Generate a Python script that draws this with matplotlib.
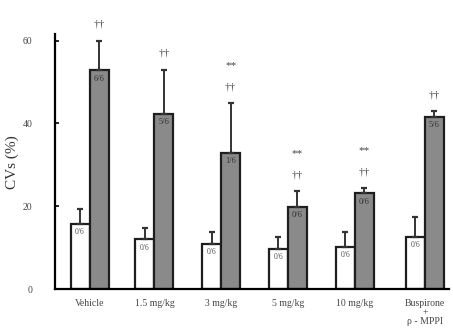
import numpy as np
import matplotlib
matplotlib.use("Agg")
import matplotlib.pyplot as plt

plt.rcParams["font.family"] = ["Liberation Serif", "DejaVu Serif"]

groups = ["Vehicle", "1.5 mg/kg", "3 mg/kg", "5 mg/kg", "10 mg/kg", "Buspirone\n+\nρ - MPPI"]
white_vals = [15.7, 12.0, 10.8, 9.6, 10.1, 12.5]
white_err = [3.6, 2.7, 2.9, 2.9, 3.6, 4.8]
gray_vals = [52.8, 42.2, 32.8, 19.8, 23.1, 41.5]
gray_err = [7.2, 10.8, 12.0, 3.8, 1.2, 1.4]
white_labels = ["0/6", "0/6", "0/6", "0/6", "0/6", "0/6"]
gray_labels = ["6/6", "5/6", "1/6", "0/6", "0/6", "5/6"]
daggers = ["††", "††", "††", "††", "††", "††"]
stars = ["", "", "**", "**", "**", ""]

x = np.array([0, 0.97, 1.97, 2.97, 3.97, 5.02])
w = 0.285

fig = plt.figure(figsize=(4.53, 3.30), dpi=100)
ax = fig.add_axes([0.121, 0.124, 0.870, 0.772])

ax.bar(x - w / 2, white_vals, w, color="white", edgecolor="#1e1e1e", linewidth=1.6,
       yerr=[np.zeros(6), white_err], error_kw=dict(ecolor="#333333", elinewidth=1.4, capsize=2.5, capthick=1.6))
ax.bar(x + w / 2, gray_vals, w, color="#8a8a8a", edgecolor="#1e1e1e", linewidth=1.6,
       yerr=[np.zeros(6), gray_err], error_kw=dict(ecolor="#333333", elinewidth=1.4, capsize=2.5, capthick=1.6))

for i in range(6):
    ax.text(x[i] - w / 2, white_vals[i] - 1.0, white_labels[i], ha="center", va="top",
            fontsize=5.5, color="#555555")
    ax.text(x[i] + w / 2, gray_vals[i] - 1.0, gray_labels[i], ha="center", va="top",
            fontsize=6, color="#333333")
    top = gray_vals[i] + gray_err[i]
    ax.annotate(daggers[i], (x[i] + w / 2, top), xytext=(0, 12), textcoords="offset points",
                ha="center", va="center", fontsize=8, color="#444444")
    if stars[i]:
        ax.annotate(stars[i], (x[i] + w / 2, top), xytext=(0, 27), textcoords="offset points",
                    ha="center", va="center", fontsize=8, color="#444444")

ax.set_xlim(-0.52, 5.38)
ax.set_ylim(0, 61.5)
ax.set_yticks([0, 20, 40, 60])
ax.set_yticklabels(["0", "20", "40", "60"], fontsize=7, color="#444444")
ax.set_xticks(x)
ax.set_xticklabels(groups, fontsize=7, color="#444444", va="top", linespacing=1.0)
ax.tick_params(axis="x", length=0, pad=7)
ax.tick_params(axis="y", length=3, width=1.2, direction="in", pad=16)
ax.set_ylabel("CVs (%)", fontsize=11, color="#333333", labelpad=3)

ax.spines["top"].set_visible(False)
ax.spines["right"].set_visible(False)
ax.spines["left"].set_linewidth(1.6)
ax.spines["bottom"].set_linewidth(1.6)

fig.savefig("out.png", dpi=100)
